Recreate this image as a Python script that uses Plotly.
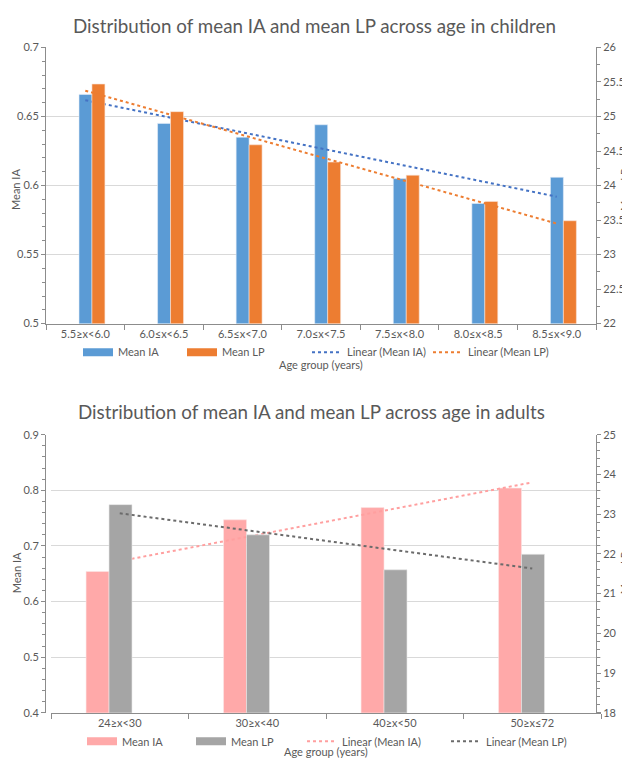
import numpy as np
import plotly.graph_objects as go

# ---------------- data ----------------
child_groups = ["5.5≥x<6.0", "6.0≤x<6.5", "6.5≤x<7.0", "7.0≤x<7.5",
                "7.5≤x<8.0", "8.0≤x<8.5", "8.5≤x<9.0"]
child_mean_ia = [0.666, 0.645, 0.635, 0.644, 0.605, 0.587, 0.606]
child_mean_lp = [25.47, 25.07, 24.59, 24.34, 24.15, 23.77, 23.49]

adult_groups = ["24≥x<30", "30≥x<40", "40≥x<50", "50≥x≤72"]
adult_mean_ia = [0.654, 0.747, 0.769, 0.804]
adult_mean_lp = [23.24, 22.48, 21.60, 21.99]

FONT = "Lato"
TXT = "#595959"
AX = "#8c8c8c"
GRID = "#d9d9d9"

C_BLUE, C_ORANGE = "#5B9BD5", "#ED7D31"
C_BLUE_T, C_ORANGE_T = "#4472C4", "#ED7D31"
C_PINK, C_GREY = "#FFA9A9", "#A5A5A5"
C_PINK_T, C_GREY_T = "#FF9F9F", "#6b6b6b"


def linfit(vals):
    idx = np.arange(len(vals))
    k, b = np.polyfit(idx, vals, 1)
    return list(k * idx + b)


fig = go.Figure()


def legend_swatch(name, color, group, legend, xa, ya):
    # wide rectangular legend key (Excel style) linked to the bar trace
    fig.add_trace(go.Scatter(x=[None], y=[None], mode="lines", name=name,
                             line=dict(color=color, width=8), legendgroup=group,
                             legend=legend, xaxis=xa, yaxis=ya, hoverinfo="skip"))


# ---------- children ----------
fig.add_trace(go.Bar(x=child_groups, y=child_mean_ia, name="Mean IA", showlegend=False,
                     legendgroup="c_ia",
                     marker=dict(color=C_BLUE, line=dict(color="#e6eef8", width=0.6)),
                     width=0.165, offset=-0.08, xaxis="x", yaxis="y"))
fig.add_trace(go.Bar(x=child_groups, y=child_mean_lp, name="Mean LP", showlegend=False,
                     legendgroup="c_lp",
                     marker=dict(color=C_ORANGE, line=dict(color="#f8e3d6", width=0.6)),
                     width=0.165, offset=0.085, xaxis="x", yaxis="y2"))
fig.add_trace(go.Scatter(x=child_groups, y=linfit(child_mean_ia), name="Linear (Mean IA)",
                         mode="lines", line=dict(color=C_BLUE_T, width=2, dash="dot"),
                         xaxis="x", yaxis="y", legend="legend3"))
fig.add_trace(go.Scatter(x=child_groups, y=linfit(child_mean_lp), name="Linear (Mean LP)",
                         mode="lines", line=dict(color=C_ORANGE_T, width=2, dash="dot"),
                         xaxis="x", yaxis="y2", legend="legend4"))
legend_swatch("Mean IA", C_BLUE, "c_ia", "legend", "x", "y")
legend_swatch("Mean LP", C_ORANGE, "c_lp", "legend2", "x", "y")

# ---------- adults ----------
fig.add_trace(go.Bar(x=adult_groups, y=adult_mean_ia, name="Mean IA", showlegend=False,
                     legendgroup="a_ia",
                     marker=dict(color=C_PINK, line=dict(color="#fbe6e6", width=0.6)),
                     width=0.167, offset=-0.245, xaxis="x2", yaxis="y3"))
fig.add_trace(go.Bar(x=adult_groups, y=adult_mean_lp, name="Mean LP", showlegend=False,
                     legendgroup="a_lp",
                     marker=dict(color=C_GREY, line=dict(color="#e8e8e8", width=0.6)),
                     width=0.167, offset=-0.078, xaxis="x2", yaxis="y4"))
fig.add_trace(go.Scatter(x=adult_groups, y=linfit(adult_mean_ia), name="Linear (Mean IA)",
                         mode="lines", line=dict(color=C_PINK_T, width=2, dash="dot"),
                         xaxis="x2", yaxis="y3", legend="legend7"))
fig.add_trace(go.Scatter(x=adult_groups, y=linfit(adult_mean_lp), name="Linear (Mean LP)",
                         mode="lines", line=dict(color=C_GREY_T, width=2, dash="dot"),
                         xaxis="x2", yaxis="y4", legend="legend8"))
legend_swatch("Mean IA", C_PINK, "a_ia", "legend5", "x2", "y3")
legend_swatch("Mean LP", C_GREY, "a_lp", "legend6", "x2", "y3")

W, H = 630, 759


def px(v):
    return v / W


def py(v):
    return 1 - v / H


tickfont = dict(family=FONT, size=11, color=TXT)


def yax(rng, dtick, minor, domain, side="left", overlay=None, grid=True):
    d = dict(range=rng, dtick=dtick, domain=domain, side=side,
             showgrid=grid, gridcolor=GRID, gridwidth=1,
             showline=True, linecolor=AX, linewidth=1,
             ticks="outside", ticklen=4, tickcolor=AX,
             minor=dict(dtick=minor, ticks="outside", ticklen=3, tickcolor=AX, showgrid=False),
             tickfont=tickfont, zeroline=False, fixedrange=True)
    if overlay:
        d["overlaying"] = overlay
    return d


def leg(xpix, ypix):
    return dict(orientation="h", x=px(xpix), y=py(ypix), xanchor="left", yanchor="middle",
                itemwidth=30, font=dict(family=FONT, size=11, color=TXT),
                bgcolor="rgba(0,0,0,0)", borderwidth=0)


def note(text, x, y, size=11, angle=0):
    return dict(text=text, x=px(x), y=py(y), xref="paper", yref="paper", showarrow=False,
                xanchor="center", yanchor="middle", textangle=angle,
                font=dict(family=FONT, size=size, color=TXT))


top_dom = [py(314), py(33)]
bot_dom = [py(710), py(427)]

layout = dict(
    width=W, height=H,
    margin=dict(l=0, r=0, t=0, b=0),
    paper_bgcolor="white", plot_bgcolor="white",
    barmode="overlay",
    showlegend=True,
    font=dict(family=FONT, color=TXT),
    xaxis=dict(domain=[px(38), px(588)], anchor="y", type="category",
               showline=True, linecolor=AX, linewidth=1, ticks="outside",
               tickson="boundaries", ticklen=5, tickcolor=AX, tickfont=tickfont,
               showgrid=False, fixedrange=True),
    yaxis=yax([0.5, 0.7], 0.05, 0.01, top_dom),
    yaxis2=yax([22, 26], 0.5, 0.25, top_dom, side="right", overlay="y", grid=False),
    xaxis2=dict(domain=[px(43), px(593)], anchor="y3", type="category",
                showline=True, linecolor=AX, linewidth=1, ticks="outside",
                tickson="boundaries", ticklen=5, tickcolor=AX, tickfont=tickfont,
                showgrid=False, fixedrange=True),
    yaxis3=yax([0.4, 0.9], 0.1, 0.02, bot_dom),
    yaxis4=yax([18, 25], 1, 0.2, bot_dom, side="right", overlay="y3", grid=False),
    legend=leg(70, 343), legend2=leg(174, 343), legend3=leg(299, 343), legend4=leg(420, 343),
    legend5=leg(74, 739), legend6=leg(183, 739), legend7=leg(294, 739), legend8=leg(438, 739),
    annotations=[
        note("Distribution of mean IA and mean LP across age in children", 306, 11, size=18.8),
        note("Distribution of mean IA and mean LP across age in adults", 303, 403, size=18.8),
        note("Age group (years)", 313, 356),
        note("Age group (years)", 318, 749),
        note("Mean IA", 8, 178, angle=-90),
        note("Mean LP", 617, 178, angle=-90),
        note("Mean IA", 8, 568, angle=-90),
        note("Mean LP", 616, 568, angle=-90),
    ],
)
fig.update_layout(**layout)
fig.write_html("out.html")
